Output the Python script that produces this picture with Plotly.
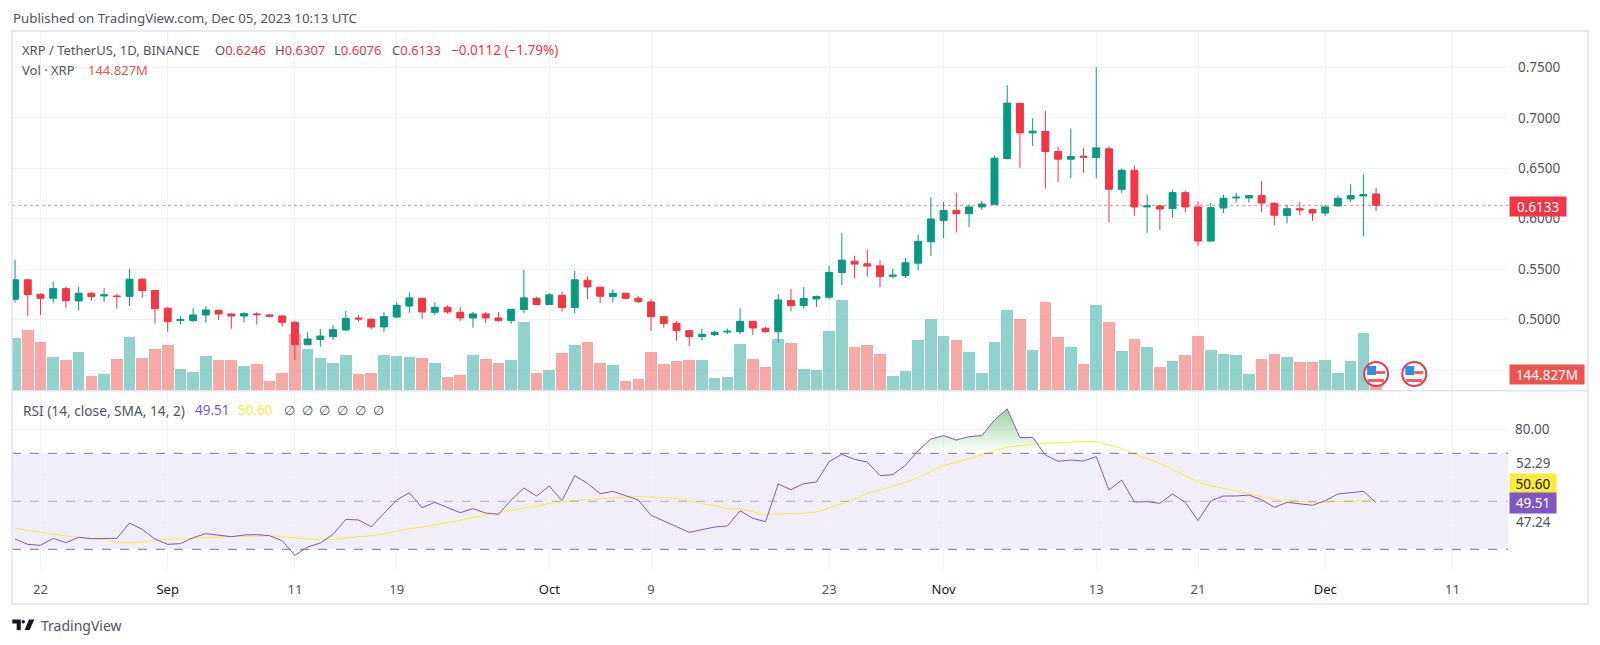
import pandas as pd
import plotly.graph_objects as go

dates = pd.date_range("2023-08-20", "2023-12-05", freq="D").strftime("%Y-%m-%d").tolist()

opens = [.5203,.5395,.5252,.5212,.5308,.5186,.5262,.5235,.5235,.5232,.5401,.5289,
 .5113,.4991,.4991,.5047,.5093,.5057,.5037,.5057,.5047,.5037,.4974,.4752,.4805,.4832,.4898,.5017,.5004,.4928,.5027,.5136,.5212,.5073,.5123,.5073,.5017,.5057,.5017,.4991,.5100,.5212,
 .5150,.5242,.5120,.5391,.5322,.5229,.5262,.5212,.5176,.5030,.4964,.4891,.4832,.4852,.4878,.4881,.4984,.4915,.4881,.5190,.5140,.5206,.5223,.5468,.5580,.5554,.5534,.5431,.5438,.5560,.5772,
 .5984,.6083,.6050,.6117,.6143,.6597,.7143,.6851,.6865,.6666,.6590,.6620,.6606,.6693,.6292,.6481,.6117,.6127,.6100,.6259,.6117,.5779,.6107,.6206,.6206,.6229,.6153,.6031,.6100,.6090,
 .6057,.6127,.6196,.6226,.6246]
highs = [.5593,.5404,.5262,.5378,.5328,.5328,.5272,.5312,.5255,.5504,.5414,.5295,
 .5123,.5037,.5113,.5133,.5097,.5063,.5077,.5073,.5054,.5044,.4987,.4875,.4905,.4948,.5087,.5047,.5014,.5077,.5173,.5269,.5216,.5173,.5143,.5126,.5077,.5077,.5077,.5103,.5494,.5226,
 .5265,.5275,.5484,.5431,.5328,.5302,.5262,.5235,.5203,.5034,.4987,.4898,.4911,.4891,.4911,.5113,.4987,.4928,.5255,.5306,.5322,.5240,.5537,.5858,.5633,.5693,.5594,.5504,.5610,.5842,.6213,
 .6166,.6259,.6143,.6176,.6626,.7325,.7146,.6994,.7067,.6712,.6894,.6699,.7500,.6719,.6497,.6527,.6239,.6133,.6289,.6279,.6173,.6156,.6239,.6259,.6239,.6371,.6163,.6140,.6166,.6100,
 .6140,.6232,.6342,.6438,.6307]
lows = [.5169,.5037,.5047,.5169,.5120,.5090,.5186,.5176,.5110,.5136,.5219,.4961,
 .4881,.4951,.4977,.4971,.4997,.4911,.4971,.4951,.5024,.4931,.4600,.4749,.4732,.4802,.4888,.4981,.4905,.4878,.5017,.5070,.5007,.5044,.5060,.4987,.4921,.4967,.4981,.4958,.5067,.5146,
 .5146,.5080,.5063,.5203,.5163,.5173,.5203,.5166,.4888,.4921,.4792,.4739,.4792,.4838,.4858,.4858,.4848,.4871,.4775,.5084,.5114,.5124,.5203,.5342,.5412,.5428,.5322,.5412,.5412,.5488,.5630,
 .5809,.5865,.5918,.6087,.6140,.6587,.6504,.6722,.6299,.6361,.6401,.6458,.6401,.5964,.6256,.6027,.5862,.5888,.6011,.6064,.5726,.5779,.6057,.6160,.6160,.6064,.5935,.5954,.6037,.5981,
 .6027,.6117,.6166,.5825,.6076]
closes = [.5395,.5249,.5212,.5308,.5189,.5262,.5229,.5246,.5229,.5401,.5289,.5110,
 .4981,.5001,.5047,.5097,.5057,.5037,.5060,.5050,.5034,.4974,.4752,.4809,.4838,.4901,.5011,.5007,.4928,.5030,.5143,.5216,.5077,.5123,.5077,.5017,.5057,.5017,.4991,.5103,.5216,.5150,
 .5246,.5120,.5395,.5325,.5232,.5262,.5212,.5179,.5030,.4964,.4891,.4832,.4855,.4875,.4885,.4984,.4918,.4881,.5196,.5140,.5210,.5230,.5468,.5590,.5551,.5531,.5428,.5441,.5564,.5776,.5997,
 .6083,.6050,.6117,.6146,.6600,.7146,.6851,.6868,.6666,.6590,.6616,.6610,.6702,.6292,.6481,.6117,.6127,.6097,.6259,.6117,.5779,.6110,.6203,.6213,.6229,.6156,.6034,.6100,.6087,.6057,
 .6117,.6203,.6229,.6239,.6133]
volumes = [419,488,389,271,242,306,113,134,255,427,263,338,
 368,172,150,276,247,247,201,217,73,142,451,338,263,225,284,134,142,284,276,271,263,225,105,121,284,255,225,242,555,142,
 166,298,368,389,225,209,73,89,306,217,234,247,247,97,105,376,255,193,411,384,172,167,481,731,347,368,293,113,156,403,572,
 435,403,307,143,390,645,572,323,714,427,352,210,685,548,315,411,347,186,234,285,435,323,291,285,130,256,291,272,226,226,
 242,143,234,460,144.827]
rsi = [34.29,32.07,31.65,34.57,32.76,35.0,34.43,34.57,34.57,40.96,38.32,34.29,
 32.07,32.35,34.84,36.51,35.82,35.26,35.96,36.09,35.68,33.59,27.48,30.95,32.62,36.23,42.48,42.21,39.43,44.98,50.54,53.59,47.34,49.57,47.48,45.26,46.93,45.12,44.57,50.54,55.54,52.21,
 56.37,50.26,60.68,57.48,53.18,54.15,52.35,50.54,44.15,41.93,39.43,37.07,38.32,39.29,39.71,46.09,42.90,41.51,57.21,54.85,57.35,58.04,66.51,69.57,67.48,66.37,60.68,61.10,64.99,71.10,75.96,
 77.35,75.54,76.93,77.35,83.87,88.46,76.51,76.65,69.29,66.65,67.21,66.79,68.60,54.71,58.87,49.71,49.85,49.15,53.04,49.57,41.93,50.12,52.21,52.21,52.62,50.68,47.48,49.57,49.01,48.32,
 50.26,53.04,53.59,54.15,49.51]
rsi_ma = [38.73,38.04,37.21,36.37,35.54,34.98,34.43,34.01,32.90,32.76,33.04,33.87,
 34.15,34.43,34.57,34.98,35.12,35.26,35.40,35.54,35.54,35.26,34.84,34.15,33.87,34.15,34.84,35.26,35.68,36.37,37.48,38.60,39.29,40.12,40.96,42.07,43.32,44.29,45.54,46.37,47.21,47.90,
 49.15,49.71,50.40,50.68,51.09,51.37,51.79,52.07,51.93,51.65,51.23,50.26,49.01,48.18,46.93,46.79,45.68,44.43,44.71,44.71,44.98,45.54,47.21,49.01,50.96,53.32,54.71,56.23,57.90,59.85,62.35,
 64.99,66.24,67.76,69.29,71.10,72.63,73.18,73.74,74.15,74.43,74.85,74.99,74.85,73.46,72.07,69.71,67.76,65.82,63.18,60.68,58.18,56.51,55.40,54.29,53.32,52.07,50.82,50.40,49.85,49.43,
 49.57,49.85,49.99,50.26,50.60]

for name, arr in [("o", opens), ("h", highs), ("l", lows), ("c", closes), ("v", volumes), ("r", rsi), ("m", rsi_ma)]:
    assert len(arr) == len(dates), (name, len(arr), len(dates))

tick_dates = ["2023-08-22","2023-09-01","2023-09-11","2023-09-19","2023-10-01","2023-10-09","2023-10-23",
              "2023-11-01","2023-11-13","2023-11-21","2023-12-01","2023-12-11"]
tick_labels = ["22","Sep","11","19","Oct","9","23","Nov","13","21","Dec","11"]
price_ticks = [.45,.50,.55,.60,.65,.70,.75]
rsi_ticks = [80,60,40]

FONT = "Noto Sans"
UP, DOWN = "#089981", "#F23645"
TXT = "#50535E"
GRID = "#F0F3FA"
FRAME = "#E0E3EB"
L, R, T, B = 12, 1508, 31, 604
def px(x): return (x - L) / (R - L)
def py(y): return (B - y) / (B - T)

colors = ["rgba(38,166,154,.5)" if c >= o else "rgba(239,83,80,.5)" for o, c in zip(opens, closes)]

fig = go.Figure()
fig.add_trace(go.Bar(x=dates, y=volumes, marker=dict(color=colors, line_width=0), width=79e6,
                     xaxis="x", yaxis="y", hoverinfo="skip"))
fig.add_trace(go.Candlestick(x=dates, open=opens, high=highs, low=lows, close=closes,
                             increasing=dict(line=dict(color=UP, width=1), fillcolor=UP),
                             decreasing=dict(line=dict(color=DOWN, width=1), fillcolor=DOWN),
                             whiskerwidth=0, xaxis="x", yaxis="y2", hoverinfo="skip"))

# overbought area of the RSI: RSI held at 70 outside Oct 29 - Nov 9
i0, i1 = dates.index("2023-10-29"), dates.index("2023-11-09")
ob_x = dates[i0:i1 + 1]
ob_y = [max(v, 70) for v in rsi[i0:i1 + 1]]
fig.add_trace(go.Scatter(x=ob_x, y=[70] * len(ob_x), mode="lines", line=dict(width=0),
                         xaxis="x2", yaxis="y3", hoverinfo="skip"))
fig.add_trace(go.Scatter(x=ob_x, y=ob_y, mode="lines", line=dict(width=0), fill="tonexty",
                         fillgradient=dict(type="vertical",
                                           colorscale=[[0, "rgba(76,175,80,0)"], [1, "rgba(76,175,80,.55)"]]),
                         xaxis="x2", yaxis="y3", hoverinfo="skip"))
fig.add_trace(go.Scatter(x=dates, y=rsi_ma, mode="lines", line=dict(color="#FFEB3B", width=1),
                         xaxis="x2", yaxis="y3", hoverinfo="skip"))
fig.add_trace(go.Scatter(x=dates, y=rsi, mode="lines", line=dict(color="#7E57C2", width=1),
                         xaxis="x2", yaxis="y3", hoverinfo="skip"))

xrange = ["2023-08-19 18:14", "2023-12-15 08:53"]
common_x = dict(range=xrange, type="date", tickmode="array", tickvals=tick_dates, showgrid=True,
                gridcolor=GRID, gridwidth=1, zeroline=False, showline=False, ticks="", fixedrange=True)
ticktext = [f'<span style="color:#131722">{t}</span>' if t.isalpha() else t for t in tick_labels]

shapes = []
shapes.append(dict(type="rect", xref="paper", yref="y3", x0=0, x1=1, y0=30, y1=70,
                   fillcolor="rgba(126,87,194,.1)", line_width=0, layer="below"))
for lvl, col in [(70, "#787B86"), (50, "rgba(120,123,134,.55)"), (30, "#787B86")]:
    shapes.append(dict(type="line", xref="paper", yref="y3", x0=0, x1=1, y0=lvl, y1=lvl,
                       line=dict(color=col, width=1, dash="dash")))
shapes.append(dict(type="line", xref="paper", yref="y2", x0=0, x1=1, y0=closes[-1], y1=closes[-1],
                   line=dict(color="rgba(242,54,69,.6)", width=1, dash="dot")))
shapes.append(dict(type="rect", xref="paper", yref="paper", x0=px(12), x1=px(1588), y0=py(604), y1=py(31),
                   line=dict(color=FRAME, width=1.5), fillcolor="rgba(0,0,0,0)"))
shapes.append(dict(type="line", xref="paper", yref="paper", x0=px(12), x1=px(1588), y0=py(390.7), y1=py(390.7),
                   line=dict(color=FRAME, width=1.5)))

for d in ["2023-12-05", "2023-12-08"]:
    base = dict(xref="x", yref="paper", xsizemode="pixel", ysizemode="pixel", xanchor=d, yanchor=py(374))
    shapes.append(dict(type="circle", x0=-12, x1=12, y0=-12, y1=12, fillcolor="#FFFFFF",
                       line=dict(color="#F23645", width=2), **base))
    shapes.append(dict(type="rect", x0=-9, x1=0, y0=-1, y1=8, fillcolor="#2E8FE8", line_width=0, **base))
    shapes.append(dict(type="rect", x0=0, x1=9, y0=0, y1=3, fillcolor="#F0605F", line_width=0, **base))
    shapes.append(dict(type="rect", x0=-8, x1=8, y0=-8, y1=-5, fillcolor="#F0605F", line_width=0, **base))

shapes.append(dict(type="path", xref="paper", yref="paper", fillcolor="#131722", line_width=0,
    path=f"M {px(12.3)} {py(619.5)} L {px(20.8)} {py(619.5)} L {px(20.8)} {py(630)} L {px(16.7)} {py(630)} "
         f"L {px(16.7)} {py(623.5)} L {px(12.3)} {py(623.5)} Z"))
shapes.append(dict(type="circle", xref="paper", yref="paper", fillcolor="#131722", line_width=0,
                   x0=px(21.5), x1=px(25), y0=py(623.5), y1=py(620)))
shapes.append(dict(type="path", xref="paper", yref="paper", fillcolor="#131722", line_width=0,
    path=f"M {px(29)} {py(619.5)} L {px(34.3)} {py(619.5)} L {px(29.6)} {py(630)} L {px(24.6)} {py(630)} Z"))

def note(x, y, text, size=13, color=TXT, **kw):
    return dict(xref="paper", yref="paper", x=px(x), y=py(y), text=text, showarrow=False,
                xanchor=kw.pop("xanchor", "left"), yanchor=kw.pop("yanchor", "middle"),
                borderpad=0, font=dict(family=FONT, size=size, color=color), **kw)

def box(x0, x1, y0, y1, text, bg, color="#FFFFFF"):
    return dict(xref="paper", yref="paper", x=px(x0), y=py(y0), text=text, showarrow=False,
                xanchor="left", yanchor="top", width=x1 - x0, height=y1 - y0, bgcolor=bg,
                borderpad=0, align="center", valign="middle",
                font=dict(family=FONT, size=13.5, color=color))

RED = "#F23645"
def r(s): return f'<span style="color:{RED}">{s}</span>'

annotations = [
    note(12, 18, "Published on TradingView.com, Dec 05, 2023 10:13 UTC", size=13.3),
    note(21, 50, "XRP / TetherUS, 1D, BINANCE"),
    note(214, 50, "O" + r("0.6246")),
    note(274, 50, "H" + r("0.6307")),
    note(333, 50, "L" + r("0.6076")),
    note(391, 50, "C" + r("0.6133")),
    note(450, 50, r("−0.0112 (−1.79%)"), size=13.5),
    note(21, 70, "Vol · XRP"),
    note(87, 70, "144.827M", color="#EF5350"),
    note(21.5, 410, "RSI (14, close, SMA, 14, 2)", size=13.7),
    note(194, 410, "49.51", color="#7E57C2", size=13.5),
    note(237, 410, "50.60", color="#FFEB3B", size=13.5),
    note(283, 410, "∅"), note(301, 410, "∅"), note(318, 410, "∅"),
    note(336, 410, "∅"), note(354, 410, "∅"), note(372, 410, "∅"),
    note(1515, 463, "52.29", size=13.5),
    note(1515, 522, "47.24", size=13.5),
    box(1509, 1565, 196, 215, "0.6133", DOWN),
    box(1509, 1583, 364, 383, "144.827M", "#EF5350"),
    box(1509, 1555, 473, 492, "50.60", "#FFEB3B", "#131722"),
    box(1509, 1555, 492, 512, "49.51", "#7E57C2"),
    note(39.5, 625, "TradingView", size=14),
]

tickf = dict(family=FONT, size=13.5, color=TXT)
fig.update_layout(
    width=1600, height=645, autosize=False, showlegend=False, bargap=0, boxgap=0.22,
    paper_bgcolor="#FFFFFF", plot_bgcolor="#FFFFFF",
    margin=dict(l=L, r=1600 - R, t=T, b=645 - B, pad=0),
    font=dict(family=FONT, size=13, color=TXT),
    xaxis=dict(anchor="y", showticklabels=False, rangeslider=dict(visible=False), **common_x),
    xaxis2=dict(anchor="y3", matches="x", ticktext=ticktext, showticklabels=True, ticklabelstandoff=9,
                tickfont=dict(family=FONT, size=13, color=TXT), **common_x),
    yaxis=dict(domain=[py(390.5), 1], range=[0, 2894], showticklabels=False, showgrid=False,
               zeroline=False, showline=False, fixedrange=True),
    yaxis2=dict(domain=[py(390.5), 1], overlaying="y", side="right", anchor="x", range=[.42986, .78601],
                tickmode="array", tickvals=price_ticks,
                ticktext=["" if v == .45 else f"{v:.4f}" for v in price_ticks], tickfont=tickf,
                showgrid=True, gridcolor=GRID, zeroline=False, showline=False, ticks="",
                ticklabelstandoff=9, fixedrange=True),
    yaxis3=dict(domain=[py(571), py(391)], anchor="x2", side="right", range=[20.96, 95.96],
                tickmode="array", tickvals=rsi_ticks, ticktext=["80.00", "", ""], tickfont=tickf,
                showgrid=True, gridcolor=GRID, zeroline=False, showline=False, ticks="",
                ticklabelstandoff=6, fixedrange=True),
    shapes=shapes, annotations=annotations,
)

fig.write_html("out.html", config=dict(displayModeBar=False),
               post_script="document.body.style.margin='0';document.documentElement.style.overflow='hidden';")
